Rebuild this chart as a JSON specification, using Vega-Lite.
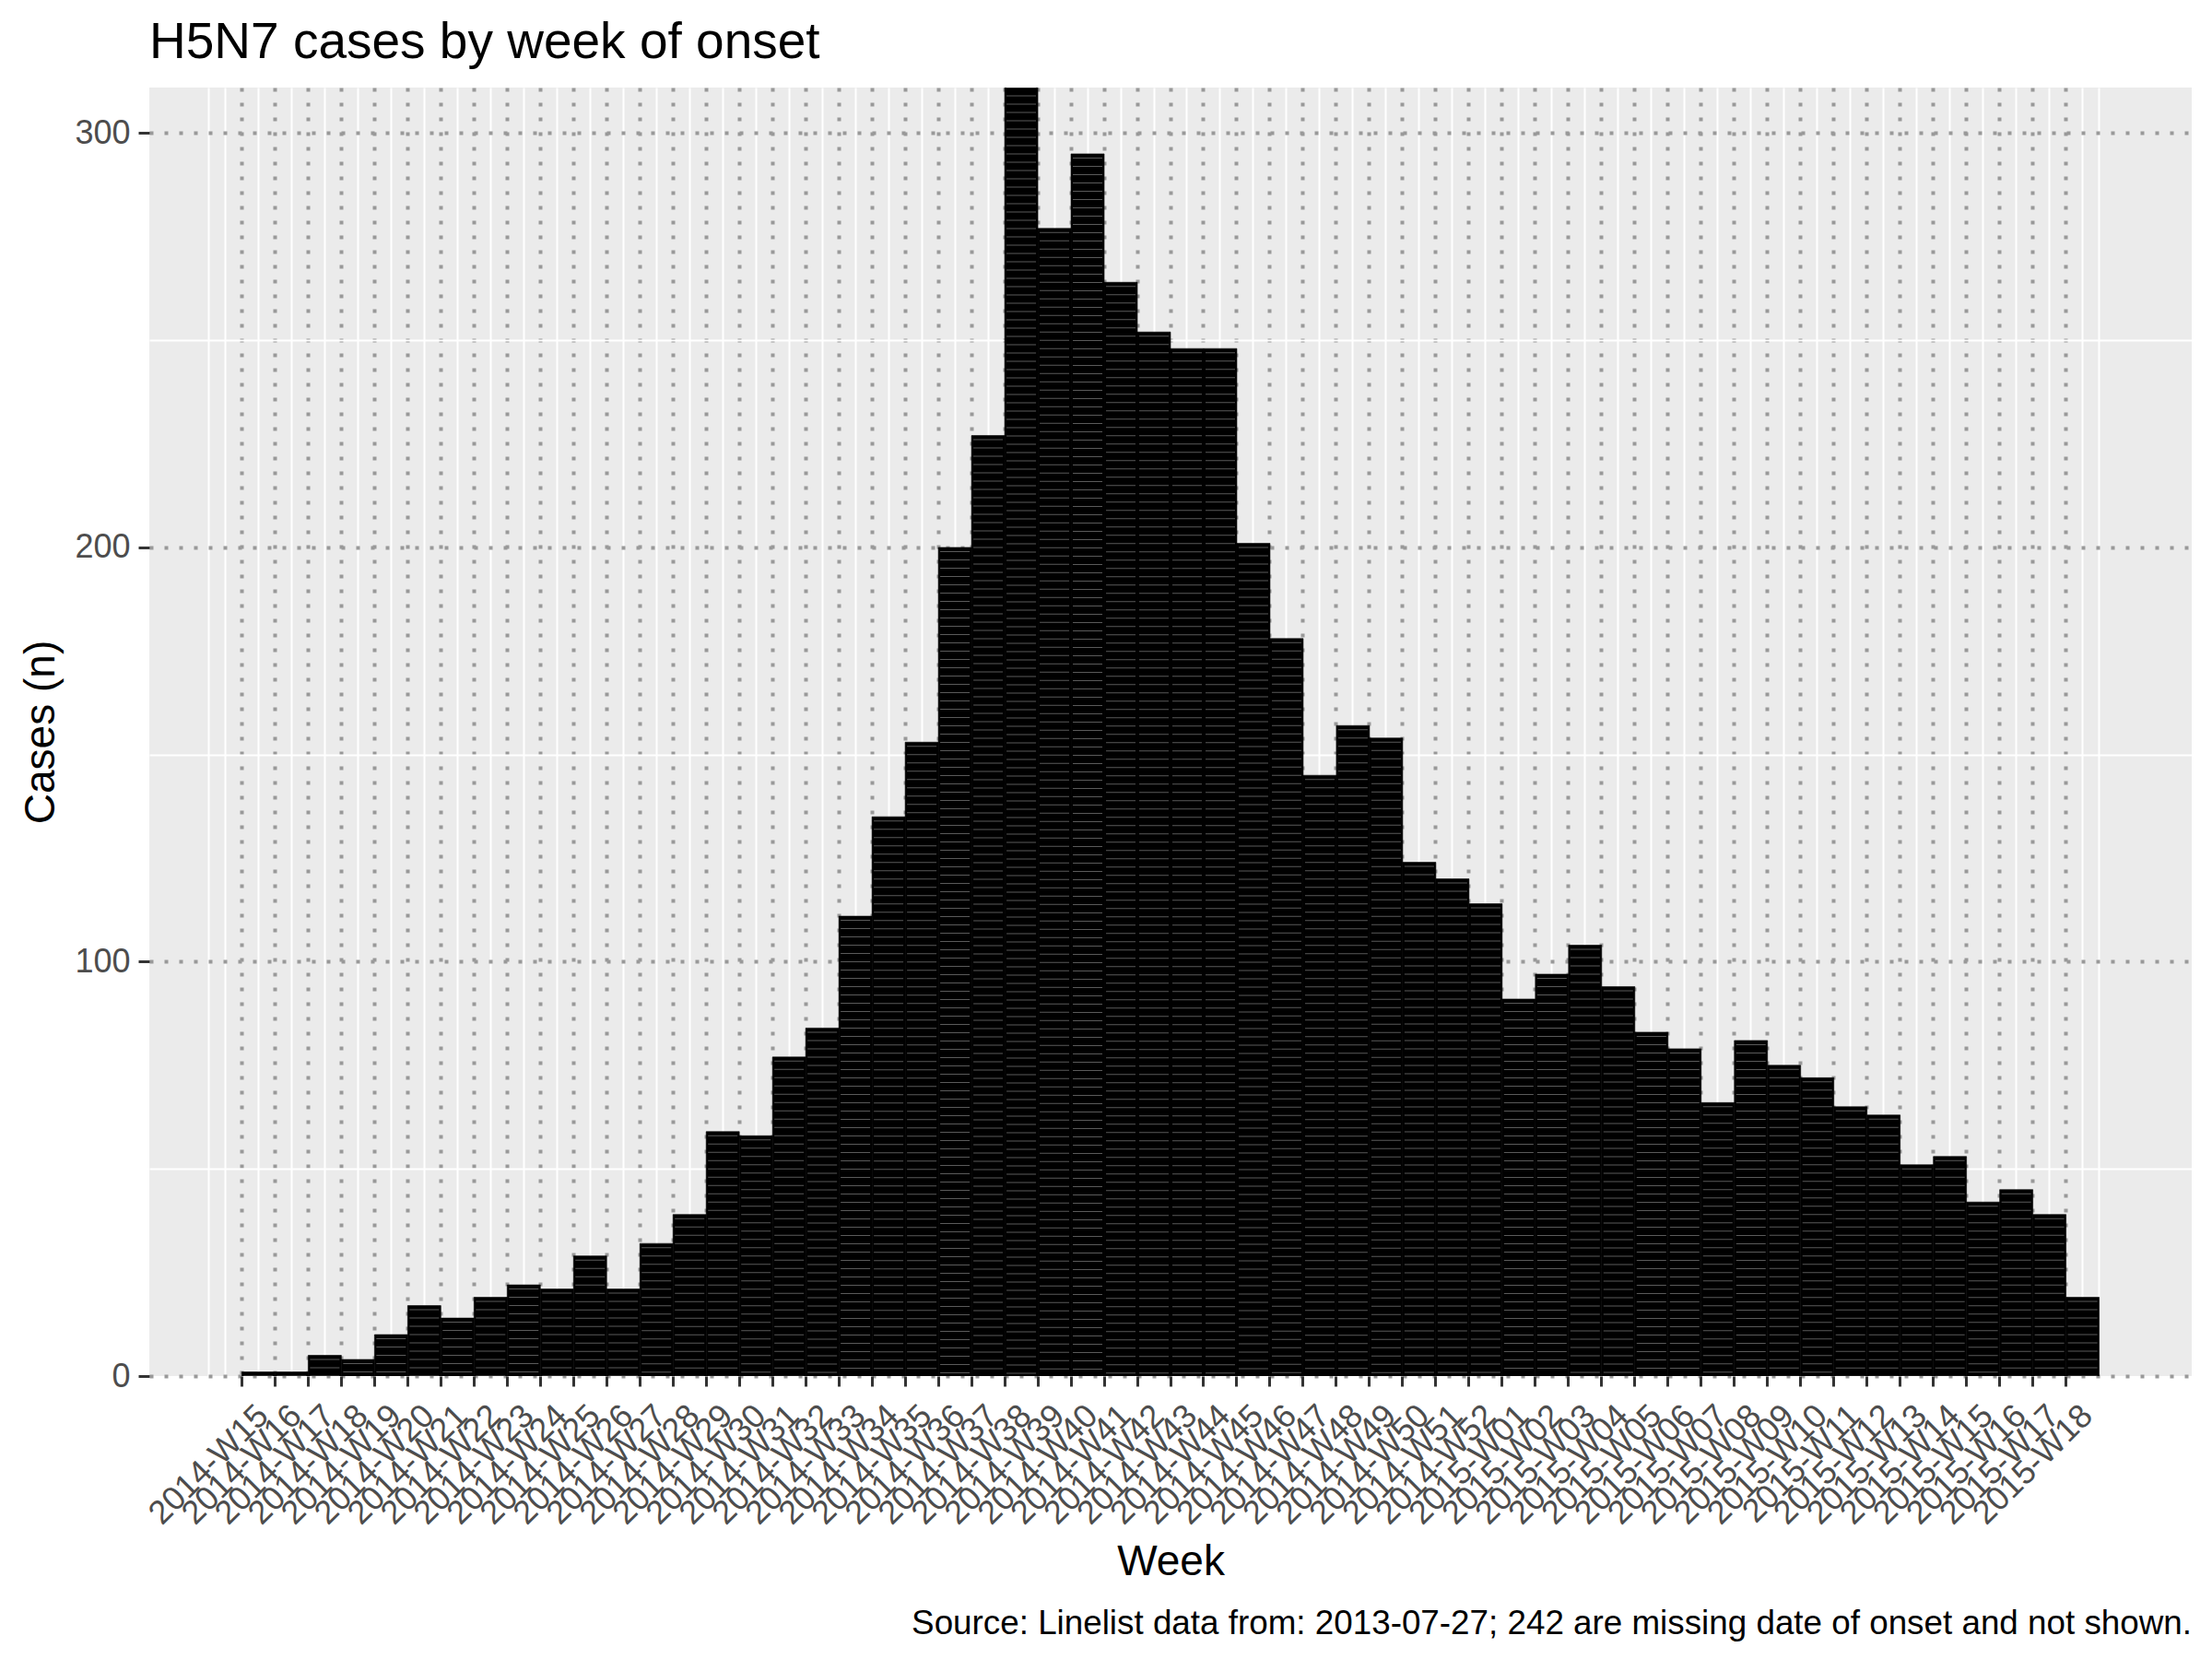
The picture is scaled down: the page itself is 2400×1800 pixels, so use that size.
{
  "$schema": "https://vega.github.io/schema/vega-lite/v6.json",
  "background": "white",
  "padding": {"left": 21, "top": 19, "right": 0, "bottom": 0},
  "config": {
    "font": "Liberation Sans",
    "view": {"fill": "#EBEBEB", "stroke": null},
    "concat": {"spacing": 0}
  },
  "title": {
    "text": "Source: Linelist data from: 2013-07-27; 242 are missing date of onset and not shown.",
    "orient": "bottom",
    "anchor": "end",
    "frame": "bounds",
    "fontSize": 36.8,
    "fontWeight": "normal",
    "color": "black",
    "offset": 27
  },
  "data": {
    "values": [
      {"week": "2014-W15", "n": 1},
      {"week": "2014-W16", "n": 1},
      {"week": "2014-W17", "n": 5},
      {"week": "2014-W18", "n": 4},
      {"week": "2014-W19", "n": 10},
      {"week": "2014-W20", "n": 17},
      {"week": "2014-W21", "n": 14},
      {"week": "2014-W22", "n": 19},
      {"week": "2014-W23", "n": 22},
      {"week": "2014-W24", "n": 21},
      {"week": "2014-W25", "n": 29},
      {"week": "2014-W26", "n": 21},
      {"week": "2014-W27", "n": 32},
      {"week": "2014-W28", "n": 39},
      {"week": "2014-W29", "n": 59},
      {"week": "2014-W30", "n": 58},
      {"week": "2014-W31", "n": 77},
      {"week": "2014-W32", "n": 84},
      {"week": "2014-W33", "n": 111},
      {"week": "2014-W34", "n": 135},
      {"week": "2014-W35", "n": 153},
      {"week": "2014-W36", "n": 200},
      {"week": "2014-W37", "n": 227},
      {"week": "2014-W38", "n": 320},
      {"week": "2014-W39", "n": 277},
      {"week": "2014-W40", "n": 295},
      {"week": "2014-W41", "n": 264},
      {"week": "2014-W42", "n": 252},
      {"week": "2014-W43", "n": 248},
      {"week": "2014-W44", "n": 248},
      {"week": "2014-W45", "n": 201},
      {"week": "2014-W46", "n": 178},
      {"week": "2014-W47", "n": 145},
      {"week": "2014-W48", "n": 157},
      {"week": "2014-W49", "n": 154},
      {"week": "2014-W50", "n": 124},
      {"week": "2014-W51", "n": 120},
      {"week": "2014-W52", "n": 114},
      {"week": "2015-W01", "n": 91},
      {"week": "2015-W02", "n": 97},
      {"week": "2015-W03", "n": 104},
      {"week": "2015-W04", "n": 94},
      {"week": "2015-W05", "n": 83},
      {"week": "2015-W06", "n": 79},
      {"week": "2015-W07", "n": 66},
      {"week": "2015-W08", "n": 81},
      {"week": "2015-W09", "n": 75},
      {"week": "2015-W10", "n": 72},
      {"week": "2015-W11", "n": 65},
      {"week": "2015-W12", "n": 63},
      {"week": "2015-W13", "n": 51},
      {"week": "2015-W14", "n": 53},
      {"week": "2015-W15", "n": 42},
      {"week": "2015-W16", "n": 45},
      {"week": "2015-W17", "n": 39},
      {"week": "2015-W18", "n": 19}
    ]
  },
  "vconcat": [
    {
      "width": 2216,
      "height": 1398,
      "title": {
        "text": "H5N7 cases by week of onset",
        "anchor": "start",
        "frame": "group",
        "fontSize": 55,
        "fontWeight": "normal",
        "color": "black",
        "baseline": "alphabetic",
        "offset": -23
      },
      "resolve": {"axis": {"x": "independent"}},
      "layer": [
        {
          "mark": {"type": "bar", "color": "black", "stroke": "black", "strokeWidth": 0.6, "clip": true},
          "encoding": {
            "x": {
              "field": "week",
              "type": "ordinal",
              "sort": null,
              "scale": {
                "domain": [
                  "2014-W13", "2014-W14",
                  "2014-W15", "2014-W16", "2014-W17", "2014-W18", "2014-W19", "2014-W20",
                  "2014-W21", "2014-W22", "2014-W23", "2014-W24", "2014-W25", "2014-W26",
                  "2014-W27", "2014-W28", "2014-W29", "2014-W30", "2014-W31", "2014-W32",
                  "2014-W33", "2014-W34", "2014-W35", "2014-W36", "2014-W37", "2014-W38",
                  "2014-W39", "2014-W40", "2014-W41", "2014-W42", "2014-W43", "2014-W44",
                  "2014-W45", "2014-W46", "2014-W47", "2014-W48", "2014-W49", "2014-W50",
                  "2014-W51", "2014-W52",
                  "2015-W01", "2015-W02", "2015-W03", "2015-W04", "2015-W05", "2015-W06",
                  "2015-W07", "2015-W08", "2015-W09", "2015-W10", "2015-W11", "2015-W12",
                  "2015-W13", "2015-W14", "2015-W15", "2015-W16", "2015-W17", "2015-W18",
                  "2015-W19", "2015-W20"
                ],
                "paddingInner": 0,
                "paddingOuter": 0.79
              },
              "axis": {
                "title": "Week",
                "orient": "bottom",
                "bandPosition": 0,
                "domain": false,
                "labelAngle": -45,
                "labelAlign": "right",
                "labelBaseline": "top",
                "labelOverlap": false,
                "labelPadding": 14,
                "labelOffset": -7,
                "labelFontSize": 36,
                "labelColor": "#4D4D4D",
                "labelExpr": "datum.value < '2014-W15' || datum.value > '2015-W18' ? '' : datum.label",
                "tickSize": 11,
                "tickWidth": 3,
                "tickColor": "#333333",
                "tickOpacity": {"condition": {"test": "datum.value < '2014-W15' || datum.value > '2015-W18'", "value": 0}, "value": 1},
                "grid": true,
                "gridOpacity": {"condition": {"test": "datum.value === '2014-W13' || datum.value === '2015-W20'", "value": 0}, "value": 1},
                "gridColor": {"condition": {"test": "datum.value === '2014-W14' || datum.value === '2015-W19'", "value": "white"}, "value": "#999999"},
                "gridDash": {"condition": {"test": "datum.value === '2014-W14' || datum.value === '2015-W19'", "value": []}, "value": [4, 12]},
                "gridWidth": {"condition": {"test": "datum.value === '2014-W14' || datum.value === '2015-W19'", "value": 2}, "value": 4},
                "titleFontSize": 46,
                "titleFontWeight": "normal",
                "titleColor": "black",
                "titlePadding": 12
              }
            },
            "y": {
              "field": "n",
              "type": "quantitative",
              "scale": {"domain": [0, 311], "nice": false, "zero": true},
              "axis": {
                "title": "Cases (n)",
                "values": [0, 50, 100, 150, 200, 250, 300],
                "labelExpr": "datum.value % 100 === 0 ? datum.label : ''",
                "domain": false,
                "labelFontSize": 36,
                "labelColor": "#4D4D4D",
                "labelPadding": 9,
                "tickSize": 12,
                "tickWidth": 3,
                "tickColor": "#333333",
                "tickOpacity": {"condition": {"test": "datum.value % 100 !== 0", "value": 0}, "value": 1},
                "grid": true,
                "gridColor": {"condition": {"test": "datum.value % 100 === 0", "value": "#999999"}, "value": "white"},
                "gridDash": {"condition": {"test": "datum.value % 100 === 0", "value": [4, 12]}, "value": []},
                "gridWidth": {"condition": {"test": "datum.value % 100 === 0", "value": 4}, "value": 2},
                "titleFontSize": 46,
                "titleFontWeight": "normal",
                "titleColor": "black",
                "titlePadding": 12
              }
            }
          }
        },
        {
          "mark": {"type": "rule", "color": "#5A5A5A", "strokeWidth": 32, "strokeDash": [1, 8], "strokeDashOffset": 5, "clip": true},
          "encoding": {
            "x": {
              "field": "week",
              "type": "ordinal",
              "sort": null,
              "bandPosition": 0.5,
              "axis": {
                "orient": "top",
                "title": null,
                "bandPosition": 0.5,
                "labels": false,
                "ticks": false,
                "domain": false,
                "grid": true,
                "gridColor": "white",
                "gridWidth": 2,
                "gridOpacity": {"condition": {"test": "datum.value === '2014-W13' || datum.value >= '2015-W19'", "value": 0}, "value": 1}
              }
            },
            "y": {"field": "n", "type": "quantitative"},
            "y2": {"datum": 0}
          }
        }
      ]
    }
  ]
}
